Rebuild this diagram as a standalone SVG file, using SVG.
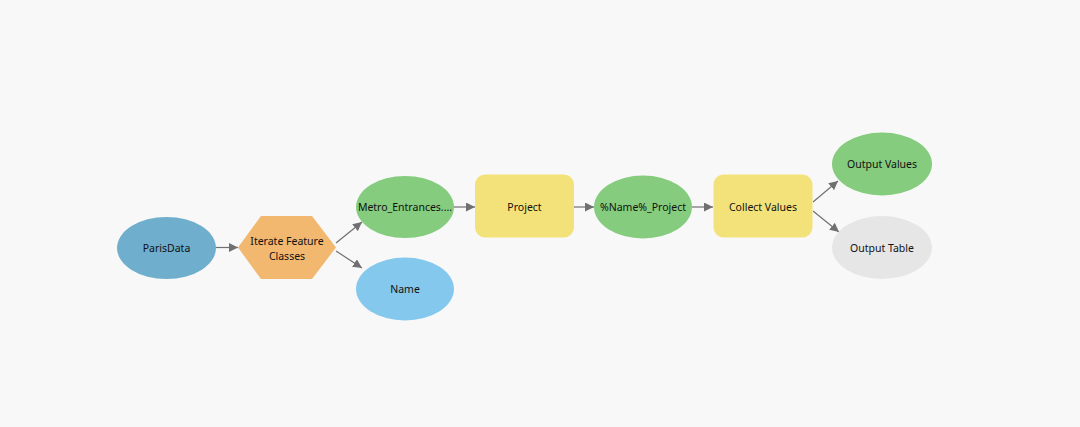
<svg xmlns="http://www.w3.org/2000/svg" width="1080" height="427" viewBox="0 0 1080 427">
<style>
text{font-family:"Noto Sans","Open Sans","Liberation Sans",sans-serif;font-size:10.5px;fill:#111111;text-anchor:middle;dominant-baseline:central}
.c{stroke:#707070;stroke-width:1.2;fill:none;marker-end:url(#ah)}
.green{fill:#85CC7E}
.yellow{fill:#F3E27A}
</style>
<defs>
<marker id="ah" viewBox="0 0 10 10" refX="10" refY="5" markerWidth="9" markerHeight="9" markerUnits="userSpaceOnUse" orient="auto">
<path d="M0,0 L10,5 L0,10 z" fill="#707070"/>
</marker>
</defs>
<rect width="1080" height="427" fill="#F8F8F8"/>
<g id="connectors">
<line class="c" x1="216" y1="247.5" x2="238" y2="247.5"/>
<line class="c" x1="336" y1="243" x2="362" y2="222"/>
<line class="c" x1="336" y1="251" x2="362" y2="268"/>
<line class="c" x1="454" y1="207" x2="475" y2="207"/>
<line class="c" x1="574" y1="207" x2="594" y2="207"/>
<line class="c" x1="692" y1="207" x2="713" y2="207"/>
<line class="c" x1="813" y1="202" x2="838" y2="181"/>
<line class="c" x1="813" y1="211" x2="839" y2="232"/>
</g>
<g id="parisdata"><ellipse cx="166.5" cy="248" rx="49.5" ry="31" fill="#6FAECC"/><text x="166.5" y="248">ParisData</text></g>
<g id="iterate"><polygon points="238,247.5 261,216 312,216 336,247.5 312,279 261,279" fill="#F2B870"/><text x="287" y="241">Iterate Feature</text><text x="287" y="256">Classes</text></g>
<g id="metro"><ellipse cx="405" cy="207" rx="49" ry="31" class="green"/><text x="405" y="207">Metro_Entrances....</text></g>
<g id="name"><ellipse cx="405" cy="289" rx="49" ry="31.5" fill="#85C8ED"/><text x="405" y="289">Name</text></g>
<g id="project"><rect x="475" y="174.5" width="99" height="63" rx="10" class="yellow"/><text x="524.5" y="207">Project</text></g>
<g id="nameproject"><ellipse cx="643" cy="207" rx="49" ry="31.5" class="green"/><text x="643" y="207">%Name%_Project</text></g>
<g id="collect"><rect x="713.5" y="174.5" width="99" height="63" rx="10" class="yellow"/><text x="763" y="207">Collect Values</text></g>
<g id="outputvalues"><ellipse cx="882" cy="164" rx="50" ry="31.5" class="green"/><text x="882" y="164">Output Values</text></g>
<g id="outputtable"><ellipse cx="882" cy="247.5" rx="50" ry="31.5" fill="#E6E6E6"/><text x="882" y="247.5">Output Table</text></g>
</svg>
